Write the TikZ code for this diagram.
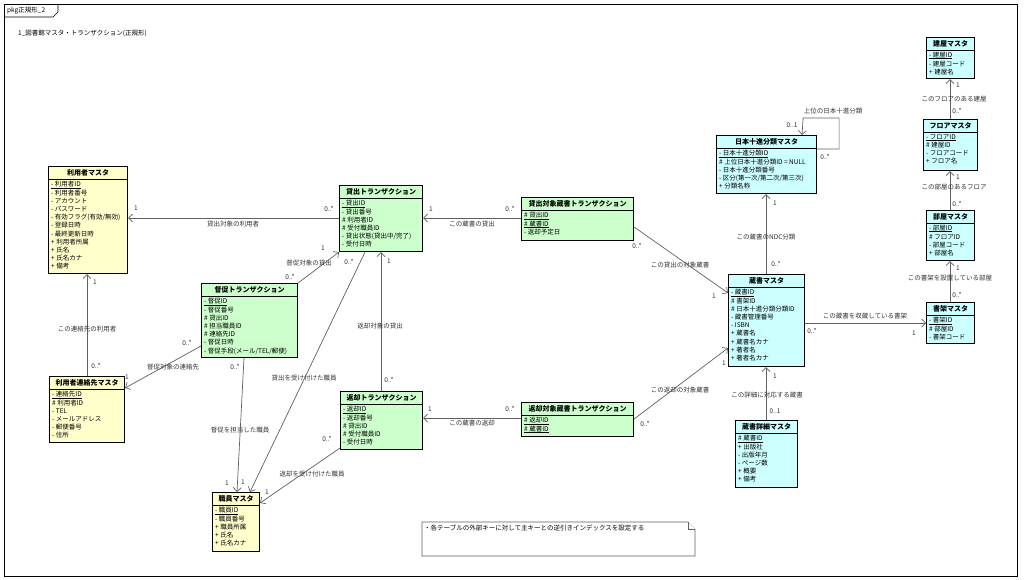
\documentclass[tikz,border=0pt]{standalone}
\usepackage{fontspec}
\setmainfont{Noto Sans CJK JP}
\usetikzlibrary{arrows.meta,calc}
\definecolor{ucyellow}{HTML}{FFFFCC}
\definecolor{ucgreen}{HTML}{CCFFCC}
\definecolor{uccyan}{HTML}{CCFFFF}
\definecolor{conngray}{HTML}{606060}
\definecolor{lblgray}{HTML}{333333}
\newsavebox\pkbox
\newcommand\pk[1]{\sbox\pkbox{#1}\rlap{\usebox\pkbox}\rule[-1.1pt]{\wd\pkbox}{0.45pt}}
\tikzset{
  clsbox/.style={draw=black, line width=1.1pt, inner sep=0pt},
  clstitle/.style={font=\fontsize{7}{8}\selectfont\bfseries, inner sep=0pt},
  clssep/.style={draw=black, line width=0.7pt},
  clsattr/.style={font=\fontsize{6.5}{8.2}\selectfont, align=left, inner sep=0pt},
  conn/.style={draw=conngray, line width=0.7pt},
  navi/.style={conn, -{Straight Barb[length=4pt,width=8pt]}},
  lbl/.style={font=\fontsize{6.5}{7}\selectfont, text=lblgray, inner sep=0pt},
  framebox/.style={draw=black, line width=0.6pt},
  notebox/.style={draw=conngray, line width=0.6pt, fill=white},
}
\newcommand\umlcls[8]{%
  \node[clsbox, fill=#6, minimum width=#4pt, minimum height=#5pt, anchor=north west] (#1) at (#2,#3) {};
  \node[clstitle] (#1-title) at ($(#1.north)+(0,6.5)$) {#7};
  \draw[clssep] ($(#1.north west)+(0,13)$) -- ($(#1.north east)+(0,13)$);
  \node[clsattr, anchor=north west] (#1-attrs) at ($(#1.north west)+(3,15.2)$) {#8};
}
\begin{document}
\begin{tikzpicture}[x=1pt,y=-1pt]
\useasboundingbox (0,0) rectangle (1024,580);
\fill[white] (0,0) rectangle (1024,580);
% frame
\draw[framebox] (4,4) rectangle (1017,576);
\draw[framebox] (4,17) -- (53,17) -- (58,12) -- (58,4);
\node[lbl, text=black, anchor=west] (framename) at (7,11) {pkg正規形\_2};
\node[lbl, text=black, anchor=west] (diagtitle) at (18,33) {1\_図書館マスタ・トランザクション(正規形)};

% classes
\umlcls{riyo}{48}{166}{79}{107}{ucyellow}{利用者マスタ}{\pk{- 利用者ID}\\- 利用者番号\\- アカウント\\- パスワード\\- 有効フラグ(有効/無効)\\- 登録日時\\- 最終更新日時\\+ 利用者所属\\+ 氏名\\+ 氏名カナ\\+ 備考}
\umlcls{renraku}{49}{376}{75}{66}{ucyellow}{利用者連絡先マスタ}{\pk{- 連絡先ID}\\\# 利用者ID\\- TEL\\- メールアドレス\\- 郵便番号\\- 住所}
\umlcls{toku}{201}{283}{96}{74}{ucgreen}{督促トランザクション}{\pk{- 督促ID}\\- 督促番号\\\# 貸出ID\\\# 担当職員ID\\\# 連絡先ID\\- 督促日時\\- 督促手段(メール/TEL/郵便)}
\umlcls{kashi}{339}{185}{83}{66}{ucgreen}{貸出トランザクション}{\pk{- 貸出ID}\\- 貸出番号\\\# 利用者ID\\\# 受付職員ID\\- 貸出状態(貸出中/完了)\\- 受付日時}
\umlcls{ktai}{521}{197}{112}{43}{ucgreen}{貸出対象蔵書トランザクション}{\pk{\# 貸出ID}\\\pk{\# 蔵書ID}\\- 返却予定日}
\umlcls{hen}{340}{391}{82}{58}{ucgreen}{返却トランザクション}{\pk{- 返却ID}\\- 返却番号\\\# 貸出ID\\\# 受付職員ID\\- 受付日時}
\umlcls{htai}{521}{402}{112}{34}{ucgreen}{返却対象蔵書トランザクション}{\pk{\# 返却ID}\\\pk{\# 蔵書ID}}
\umlcls{shoku}{212}{492}{47}{59}{ucyellow}{職員マスタ}{\pk{- 職員ID}\\- 職員番号\\+ 職員所属\\+ 氏名\\+ 氏名カナ}
\umlcls{ndc}{716}{135}{100}{58}{uccyan}{日本十進分類マスタ}{\pk{- 日本十進分類ID}\\\# 上位日本十進分類ID = NULL\\- 日本十進分類番号\\- 区分(第一次/第二次/第三次)\\+ 分類名称}
\umlcls{zosho}{728}{274}{76}{92}{uccyan}{蔵書マスタ}{\pk{- 蔵書ID}\\\# 書架ID\\\# 日本十進分類分類ID\\- 蔵書管理番号\\- ISBN\\+ 蔵書名\\+ 蔵書名カナ\\+ 著者名\\+ 著者名カナ}
\umlcls{shosai}{735}{420}{62}{67}{uccyan}{蔵書詳細マスタ}{\pk{\# 蔵書ID}\\+ 出版社\\- 出版年月\\- ページ数\\+ 概要\\+ 備考}
\umlcls{tateya}{926}{37}{48}{41}{uccyan}{建屋マスタ}{\pk{- 建屋ID}\\- 建屋コード\\+ 建屋名}
\umlcls{floor}{923}{119}{54}{51}{uccyan}{フロアマスタ}{\pk{- フロアID}\\\# 建屋ID\\- フロアコード\\+ フロア名}
\umlcls{heya}{926}{210}{48}{50}{uccyan}{部屋マスタ}{\pk{- 部屋ID}\\\# フロアID\\- 部屋コード\\+ 部屋名}
\umlcls{shoka}{926}{302}{48}{41}{uccyan}{書架マスタ}{\pk{- 書架ID}\\\# 部屋ID\\- 書架コード}

% connectors
\draw[navi] ($(kashi.north west)+(0,33)$) -- ($(riyo.north east)+(0,52)$);
\draw[navi] ($(ktai.north west)+(0,21)$) -- ($(kashi.north east)+(0,33)$);
\draw[navi] ($(ktai.north east)+(0,30)$) -- ($(zosho.north west)+(0,19)$);
\draw[navi] ($(htai.north east)+(0,17)$) -- ($(zosho.north west)+(0,74)$);
\draw[navi] ($(htai.north west)+(0,16)$) -- ($(hen.north east)+(0,27)$);
\draw[navi] ($(hen.north west)+(41,0)$) -- ($(kashi.south west)+(42,0)$);
\draw[navi] (toku.north east) -- (kashi.south west);
\draw[navi] ($(toku.north west)+(0,63)$) -- ($(renraku.north east)+(0,12)$);
\draw[navi] ($(toku.south west)+(43,0)$) -- ($(shoku.north west)+(25,0)$);
\draw[navi] ($(kashi.south west)+(26,0)$) -- ($(shoku.north west)+(38,0)$);
\draw[navi] ($(hen.north west)+(0,57)$) -- ($(shoku.north east)+(0,11)$);
\draw[navi] ($(renraku.north west)+(38,0)$) -- ($(riyo.south west)+(39,0)$);
\draw[navi] ($(zosho.north west)+(38,0)$) -- ($(ndc.south west)+(50,0)$);
\draw[navi] ($(ndc.north east)+(0,14)$) -- ++(22,0) -- ++(0,-31) -- ++(-36,0) -- ($(ndc.north west)+(86,0)$);
\draw[navi] ($(zosho.north east)+(0,49)$) -- ($(shoka.north west)+(0,21)$);
\draw[navi] ($(shosai.north west)+(31,0)$) -- ($(zosho.south west)+(38,0)$);
\draw[navi] ($(shoka.north west)+(24,0)$) -- ($(heya.south west)+(24,0)$);
\draw[navi] ($(heya.north west)+(24,0)$) -- ($(floor.south west)+(27,0)$);
\draw[navi] ($(floor.north west)+(27,0)$) -- ($(tateya.south west)+(24,0)$);

% labels
\node[lbl] (l1) at (233,224) {貸出対象の利用者};
\node[lbl] (m1a) at (329,209) {0..*};
\node[lbl] (m1b) at (136,208) {1};
\node[lbl] (l2) at (472,224) {この蔵書の貸出};
\node[lbl] (m2a) at (510,209) {0..*};
\node[lbl] (m2b) at (431,209) {1};
\node[lbl] (l3) at (680,265) {この貸出の対象蔵書};
\node[lbl] (m3a) at (637,246) {0..*};
\node[lbl] (m3b) at (714,296) {1};
\node[lbl] (l4) at (680,390) {この返却の対象蔵書};
\node[lbl] (m4a) at (645,424) {0..*};
\node[lbl] (m4b) at (724,363) {1};
\node[lbl] (l5) at (472,423) {この蔵書の返却};
\node[lbl] (m5a) at (510,409) {0..*};
\node[lbl] (m5b) at (430,409) {1};
\node[lbl] (l6) at (380,326) {返却対象の貸出};
\node[lbl] (m6a) at (389,380) {0..*};
\node[lbl] (m6b) at (389,261) {1};
\node[lbl] (l7) at (309,263) {督促対象の貸出};
\node[lbl] (m7a) at (290,277) {0..*};
\node[lbl] (m7b) at (323,248) {1};
\node[lbl] (l8) at (173,367) {督促対象の連絡先};
\node[lbl] (m8a) at (187,343) {0..*};
\node[lbl] (m8b) at (127,377) {1};
\node[lbl] (l9) at (240,430) {督促を担当した職員};
\node[lbl] (m9a) at (235,367) {0..*};
\node[lbl] (m9b) at (227,483) {1};
\node[lbl] (l10) at (304,378) {貸出を受け付けた職員};
\node[lbl] (m10a) at (349,262) {0..*};
\node[lbl] (m10b) at (243,482) {1};
\node[lbl] (l11) at (312,474) {返却を受け付けた職員};
\node[lbl] (m11a) at (327,439) {0..*};
\node[lbl] (m11b) at (267,492) {1};
\node[lbl] (l12) at (87,329) {この連絡先の利用者};
\node[lbl] (m12a) at (96,366) {0..*};
\node[lbl] (m12b) at (95,282) {1};
\node[lbl] (l13) at (766,237) {この蔵書のNDC分類};
\node[lbl] (m13a) at (776,264) {0..*};
\node[lbl] (m13b) at (775,203) {1};
\node[lbl] (l14) at (833,111) {上位の日本十進分類};
\node[lbl] (m14a) at (825,157) {0..*};
\node[lbl] (m14b) at (792,125) {0..1};
\node[lbl] (l15) at (865,316) {この蔵書を収蔵している書架};
\node[lbl] (m15a) at (812,331) {0..*};
\node[lbl] (m15b) at (914,333) {1};
\node[lbl] (l16) at (767,395) {この詳細に対応する蔵書};
\node[lbl] (m16a) at (775,411) {0..1};
\node[lbl] (m16b) at (775,376) {1};
\node[lbl] (l17) at (950,278) {この書架を設置している部屋};
\node[lbl] (m17a) at (957,295) {0..*};
\node[lbl] (m17b) at (958,268) {1};
\node[lbl] (l18) at (954,187) {この部屋のあるフロア};
\node[lbl] (m18a) at (957,204) {0..*};
\node[lbl] (m18b) at (958,177) {1};
\node[lbl] (l19) at (954,99) {このフロアのある建屋};
\node[lbl] (m19a) at (957,111) {0..*};
\node[lbl] (m19b) at (958,85) {1};

% note
\draw[notebox] (422,522) -- (688,522) -- (695,529) -- (695,556) -- (422,556) -- cycle;
\draw[notebox] (688,522) -- (688,529) -- (695,529);
\node[lbl, text=black, anchor=west] (note) at (424,528) {・各テーブルの外部キーに対して主キーとの逆引きインデックスを設定する};
\end{tikzpicture}
\end{document}
